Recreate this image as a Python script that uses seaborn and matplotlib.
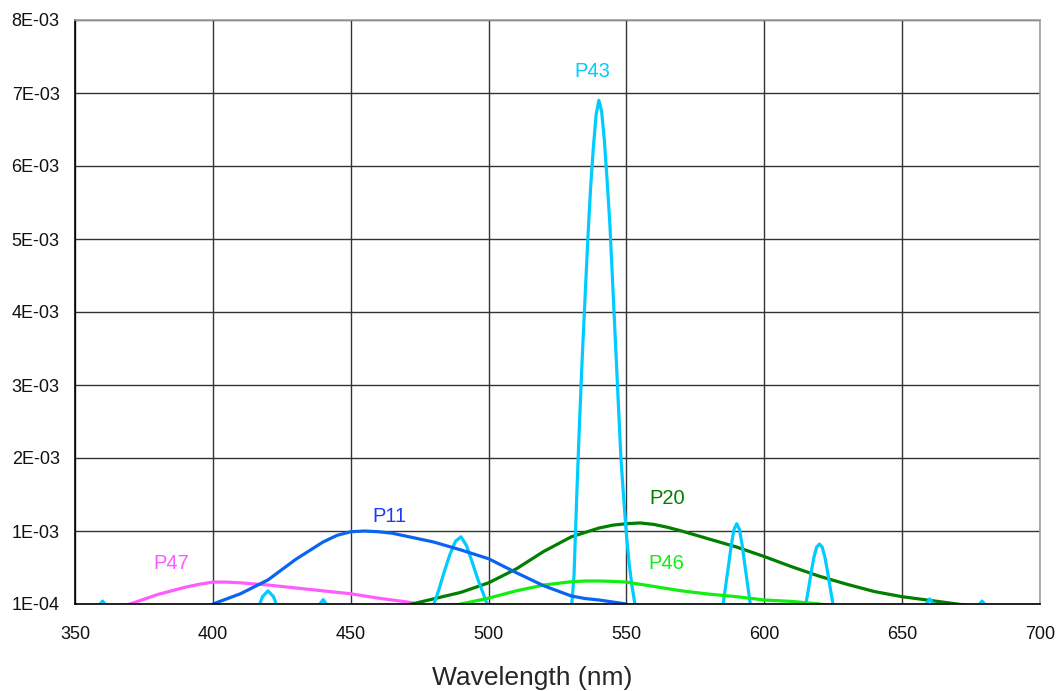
import numpy as np
import pandas as pd
import matplotlib
matplotlib.use("Agg")
import matplotlib.pyplot as plt
from matplotlib.ticker import FuncFormatter
import seaborn as sns

# Values, in units of 1E-03
p47_nm = [360, 370, 380, 390, 395, 400, 405, 410, 420, 430, 440, 450, 460, 470, 480, 490]
p47_val = [0.0, 0.10, 0.23, 0.33, 0.37, 0.40, 0.40, 0.39, 0.36, 0.32, 0.28, 0.24, 0.18, 0.13, 0.06, 0.0]

p11_nm = [400, 410, 420, 430, 440, 445, 450, 455, 460, 465, 470, 480, 490, 500,
          510, 520, 530, 535, 540, 550]
p11_val = [0.10, 0.24, 0.43, 0.71, 0.95, 1.04, 1.09, 1.10, 1.09, 1.07, 1.03, 0.95, 0.84, 0.72,
           0.53, 0.35, 0.21, 0.175, 0.155, 0.10]

p20_nm = [470, 480, 490, 500, 510, 520, 530, 540, 545, 550, 555, 560, 565, 570, 580, 590, 600,
          610, 620, 630, 640, 650, 660, 670, 680]
p20_val = [0.08, 0.17, 0.26, 0.39, 0.58, 0.82, 1.02, 1.14, 1.18, 1.20, 1.21, 1.19, 1.15, 1.10,
           0.99, 0.88, 0.75, 0.61, 0.48, 0.37, 0.27, 0.20, 0.15, 0.10, 0.04]

p46_nm = [480, 490, 500, 510, 520, 530, 535, 540, 545, 550, 560, 570, 580, 590, 600, 610, 620, 630]
p46_val = [0.02, 0.10, 0.18, 0.28, 0.36, 0.405, 0.415, 0.415, 0.41, 0.40, 0.34, 0.28, 0.235,
           0.20, 0.155, 0.135, 0.10, 0.04]

p43_nm = [350, 357, 360, 363,
          416, 418, 420, 422, 424,
          437, 440, 443,
          478, 480, 482, 484, 486, 488, 490, 492, 494, 496, 498, 500, 502,
          528, 530, 531, 532, 533, 534, 535, 536, 537, 538, 539, 540, 541, 542, 543,
          544, 545, 546, 547, 548, 549, 550, 551, 552, 553, 554, 556,
          583, 585, 586, 587, 588, 589, 590, 591, 592, 593, 594, 595, 597,
          613, 615, 616, 617, 618, 619, 620, 621, 622, 623, 624, 625, 627,
          657, 660, 663,
          676, 679, 682, 700]
p43_val = [0.0, 0.0, 0.14, 0.0,
           0.0, 0.20, 0.28, 0.20, 0.0,
           0.0, 0.16, 0.0,
           0.0, 0.08, 0.30, 0.55, 0.78, 0.96, 1.02, 0.90, 0.68, 0.45, 0.25, 0.04, 0.0,
           0.0, 0.0, 0.5, 1.6, 2.6, 3.5, 4.3, 5.1, 5.8, 6.35, 6.8, 7.0, 6.85, 6.45, 5.9,
           5.3, 4.5, 3.7, 2.9, 2.1, 1.55, 1.05, 0.65, 0.35, 0.12, 0.0, 0.0,
           0.0, 0.08, 0.35, 0.62, 0.90, 1.12, 1.20, 1.12, 0.90, 0.62, 0.35, 0.08, 0.0,
           0.0, 0.08, 0.30, 0.53, 0.74, 0.88, 0.92, 0.88, 0.74, 0.53, 0.30, 0.08, 0.0,
           0.0, 0.17, 0.0,
           0.0, 0.14, 0.0, 0.0]

series = [
    ("P47", p47_nm, p47_val),
    ("P20", p20_nm, p20_val),
    ("P43", p43_nm, p43_val),
    ("P46", p46_nm, p46_val),
    ("P11", p11_nm, p11_val),
]
colors = {"P43": "#00CCFF", "P47": "#FF5CFF", "P20": "#007F00",
          "P46": "#11EE11", "P11": "#0A64F0"}
label_colors = {"P43": "#00CCFF", "P47": "#FF5CFF", "P20": "#007F00",
                "P46": "#11EE11", "P11": "#1E3CF0"}

frames = []
for name, wl, val in series:
    frames.append(pd.DataFrame({"Wavelength": wl,
                                "Value": np.array(val) * 1e-3,
                                "Phosphor": name}))
df = pd.concat(frames, ignore_index=True)

sns.set_style("white")
plt.rcParams["font.family"] = ["Liberation Sans", "DejaVu Sans"]

fig = plt.figure(figsize=(10.6, 6.91), dpi=100)
ax = fig.add_axes([75 / 1060, 1 - 604 / 691, 965 / 1060, 584 / 691])

sns.lineplot(data=df, x="Wavelength", y="Value", hue="Phosphor",
             hue_order=[s[0] for s in series], palette=colors,
             estimator=None, sort=False, linewidth=2.3, legend=False, ax=ax)

ax.set_xlim(350, 700)
ax.set_ylim(1e-4, 8.1e-3)
ax.set_xticks(range(350, 701, 50))
ax.set_yticks(np.arange(1e-4, 8.15e-3, 1e-3))
ax.yaxis.set_major_formatter(FuncFormatter(lambda v, p: "{:.0E}".format(v)))
ax.tick_params(length=0, labelsize=13, colors="#111111")
ax.tick_params(axis="x", pad=16)
ax.tick_params(axis="y", pad=11)

ax.set_axisbelow(True)
ax.grid(True, color="#333333", linewidth=1)
for side in ["left", "bottom"]:
    ax.spines[side].set_color("#000000")
    ax.spines[side].set_linewidth(1.2)
for side in ["top", "right"]:
    ax.spines[side].set_color("#A0A0A0")
    ax.spines[side].set_linewidth(1.2)

ax.set_ylabel("")
ax.set_xlabel("Wavelength (nm)", fontsize=19, va="center")
ax.xaxis.set_label_coords(0.4736, -0.1267)

# series labels
labels = [("P47", 385, 0.66e-3), ("P11", 464, 1.305e-3), ("P43", 537.5, 7.40e-3),
          ("P20", 564.7, 1.545e-3), ("P46", 564.5, 0.655e-3)]
for name, x, y in labels:
    ax.text(x, y, name, color=label_colors[name], fontsize=14.5,
            ha="center", va="center")

fig.savefig("out.png", dpi=100)
plt.close(fig)
